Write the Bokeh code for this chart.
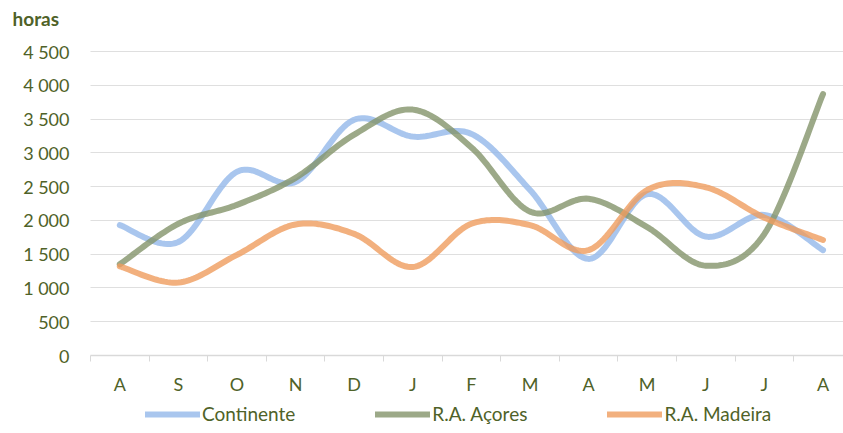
import numpy as np
from bokeh.plotting import figure
from bokeh.layouts import column
from bokeh.models import FixedTicker, Legend, LegendItem, Title, Range1d
from bokeh.embed import file_html
from bokeh.resources import INLINE

months = ["A", "S", "O", "N", "D", "J", "F", "M", "A", "M", "J", "J", "A"]
continente = [1930, 1680, 2720, 2570, 3490, 3240, 3280, 2450, 1430, 2390, 1760, 2080, 1560]
acores = [1350, 1950, 2230, 2630, 3270, 3640, 3080, 2130, 2320, 1900, 1330, 1800, 3870]
madeira = [1320, 1080, 1490, 1940, 1800, 1310, 1950, 1930, 1560, 2450, 2490, 2040, 1710]
y_ticks = [0, 500, 1000, 1500, 2000, 2500, 3000, 3500, 4000, 4500]

series = [
    ("Continente", continente, "#94B8EA"),
    ("R.A. Açores", acores, "#83936A"),
    ("R.A. Madeira", madeira, "#EF9C5E"),
]

TXT = "#4F6228"
FONT = "Lato"


def smooth(xs, ys, n=24):
    xs = np.asarray(xs, float)
    ys = np.asarray(ys, float)
    px = np.concatenate([[xs[0]], xs, [xs[-1]]])
    py = np.concatenate([[ys[0]], ys, [ys[-1]]])
    outx, outy = [], []
    t = np.linspace(0, 1, n)
    for i in range(1, len(px) - 2):
        p0x, p1x, p2x, p3x = px[i - 1], px[i], px[i + 1], px[i + 2]
        p0y, p1y, p2y, p3y = py[i - 1], py[i], py[i + 1], py[i + 2]
        c1x, c1y = p1x + (p2x - p0x) / 6, p1y + (p2y - p0y) / 6
        c2x, c2y = p2x - (p3x - p1x) / 6, p2y - (p3y - p1y) / 6
        bx = (1 - t) ** 3 * p1x + 3 * (1 - t) ** 2 * t * c1x + 3 * (1 - t) * t ** 2 * c2x + t ** 3 * p2x
        by = (1 - t) ** 3 * p1y + 3 * (1 - t) ** 2 * t * c1y + 3 * (1 - t) * t ** 2 * c2y + t ** 3 * p2y
        if i > 1:
            bx, by = bx[1:], by[1:]
        outx.extend(bx)
        outy.extend(by)
    return outx, outy


ncat = len(months)
frame_w = 843 - 90
cat_w = 58.6
MAIN_H = 400
FRAME_TOP = 30
px_per_unit = (355 - 51) / 4500.0
y_top = 4500 + (51 - FRAME_TOP) / px_per_unit
p = figure(width=843, height=MAIN_H, output_backend="svg", toolbar_location=None,
           x_range=Range1d(-0.5, -0.5 + frame_w / cat_w), y_range=Range1d(0, y_top),
           min_border_left=90, min_border_right=0, min_border_top=FRAME_TOP,
           min_border_bottom=MAIN_H - 355)
p.outline_line_color = None
p.background_fill_color = "white"
p.border_fill_color = "white"

# legend-only figure below the chart
lg = figure(width=843, height=433 - MAIN_H, output_backend="svg", toolbar_location=None,
            x_range=Range1d(0, 1), y_range=Range1d(-2, -1),
            min_border_left=0, min_border_right=0, min_border_top=0, min_border_bottom=0)
lg.axis.visible = False
lg.grid.visible = False
lg.outline_line_color = None
lg.background_fill_color = "white"
lg.border_fill_color = "white"

xs = list(range(ncat))
items = []
for name, vals, col in series:
    sx, sy = smooth(xs, vals)
    p.line(sx, sy, line_color=col, line_width=6, line_alpha=0.8,
           line_cap="round", line_join="round")
    # legend swatch renderer (its data lies outside this strip's range)
    r = lg.line(xs, vals, line_color=col, line_width=6, line_alpha=0.8, line_cap="round")
    items.append(LegendItem(label=name, renderers=[r]))

# x axis
p.xaxis.ticker = FixedTicker(ticks=xs, minor_ticks=[i - 0.5 for i in range(ncat + 1)])
p.xaxis.major_label_overrides = {i: m for i, m in enumerate(months)}
p.xaxis.major_tick_line_color = None
p.xaxis.minor_tick_line_color = "#D9D9D9"
p.xaxis.minor_tick_out = 6
p.xaxis.minor_tick_in = 0
p.xaxis.axis_line_color = "#D9D9D9"
p.xaxis.axis_line_width = 1.5
p.xaxis.major_label_text_color = TXT
p.xaxis.major_label_text_font = FONT
p.xaxis.major_label_text_font_size = "18px"
p.xaxis.major_label_standoff = 11

# y axis
p.yaxis.ticker = FixedTicker(ticks=y_ticks)
p.yaxis.major_label_overrides = {v: f"{v:,}".replace(",", " ") for v in y_ticks}
p.yaxis.axis_line_color = None
p.yaxis.major_tick_line_color = None
p.yaxis.minor_tick_line_color = None
p.yaxis.major_label_text_color = TXT
p.yaxis.major_label_text_font = FONT
p.yaxis.major_label_text_font_size = "18px"
p.yaxis.major_label_standoff = 15

p.xgrid.grid_line_color = None
p.ygrid.grid_line_color = "#BFBFBF"
p.ygrid.grid_line_dash = "1 1"
p.ygrid.grid_line_width = 1

title = Title(text="horas", text_font=FONT, text_font_style="bold", text_font_size="19px",
              text_color=TXT, align="left", offset=-78, standoff=2)
p.add_layout(title, "above")

legend = Legend(items=items, orientation="horizontal", location=(55, 8),
                glyph_width=55, glyph_height=12, label_standoff=2, spacing=80,
                label_text_color=TXT, label_text_font=FONT, label_text_font_size="19px",
                border_line_color=None, background_fill_alpha=0, padding=0, margin=0)
lg.add_layout(legend, "center")

open("out.html", "w").write(file_html(column(p, lg, spacing=0), INLINE))
